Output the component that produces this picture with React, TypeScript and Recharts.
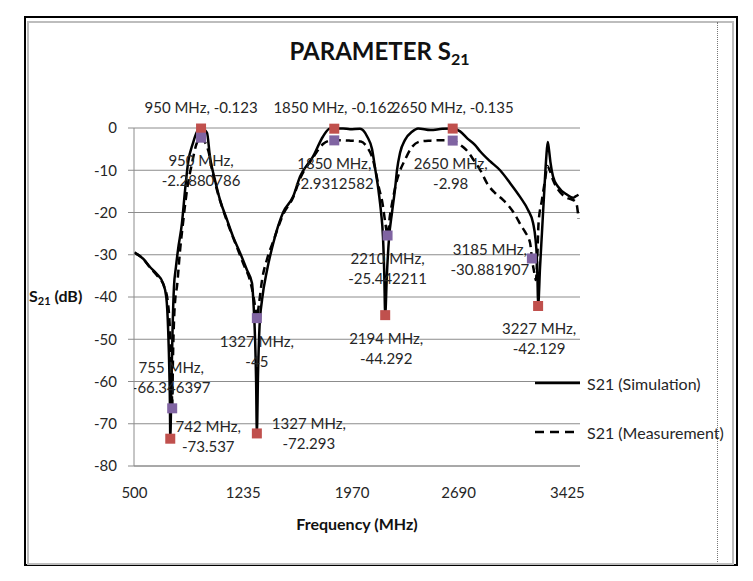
import { ComposedChart, Line, Scatter, XAxis, YAxis, CartesianGrid, Legend, Label } from "recharts";

const FONT = "Lato, 'Noto Sans', sans-serif";
const TEXT = "#262626";
const GRID = "#8c8c8c";
const SIM_COLOR = "#c0504d";
const MEAS_COLOR = "#8064a2";
const SIM_NAME = "S21 (Simulation)";
const MEAS_NAME = "S21 (Measurement)";

const X_TICKS = [500, 1235, 1970, 2690, 3425];
const Y_TICKS = [-80, -70, -60, -50, -40, -30, -20, -10, 0];

// simulated S21 sweep (MHz / dB)
const SIM_FREQ = [
  500, 560, 605, 650, 693, 715, 728, 736, 740, 742, 750, 758, 767, 780, 794, 821, 842, 862, 896, 929,
  950, 990, 1010, 1044, 1078, 1125, 1166, 1213, 1260, 1294, 1305, 1315, 1322, 1327, 1335, 1345, 1362,
  1396, 1436, 1504, 1571, 1619, 1706, 1774, 1821, 1850, 1909, 1956, 2024, 2072, 2105, 2127, 2148, 2166,
  2179, 2188, 2194, 2205, 2220, 2240, 2260, 2274, 2294, 2328, 2375, 2416, 2500, 2580, 2650, 2700, 2750,
  2800, 2835, 2900, 2970, 3037, 3105, 3159, 3193, 3210, 3218, 3223, 3227, 3240, 3253, 3270, 3282, 3292,
  3300, 3310, 3328, 3362, 3423, 3463, 3480, 3500,
];
const SIM_DB = [
  -29.5, -31, -32.9, -34.5, -36.7, -40, -48, -58, -66, -73.537, -60, -47, -37.6, -33, -28.9, -22.5, -14.7,
  -8.3, -3.5, -0.5, -0.123, -1.1, -6.8, -12.3, -17, -21.7, -25.7, -29.5, -33.6, -36.7, -42, -50, -60,
  -72.293, -58, -47, -40.7, -33.6, -27.5, -20, -16.3, -11.5, -6.8, -2, -0.1, -0.162, -0.1, -0.3, -0.2, -2,
  -5, -9.8, -14.6, -20, -25.7, -35, -44.292, -35, -26, -20, -14.6, -9.9, -5.9, -2.8, -0.9, -0.1, -0.5,
  -0.2, -0.135, -0.8, -2.5, -4, -5.5, -7.8, -10, -13, -16.3, -19.4, -22.5, -26.5, -30.4, -36, -42.129,
  -33, -24.8, -14, -7, -3.3, -5, -8, -11.5, -13.9, -15.8, -16.5, -16.2, -15.8,
];

// measured S21 sweep (MHz / dB)
const MEAS_FREQ = [
  500, 560, 605, 650, 700, 725, 740, 748, 753, 755, 760, 768, 777, 787, 808, 828, 855, 889, 922, 950,
  970, 1000, 1025, 1060, 1100, 1145, 1190, 1240, 1280, 1305, 1318, 1327, 1340, 1362, 1396, 1436, 1504,
  1571, 1619, 1706, 1774, 1821, 1850, 1900, 1960, 2030, 2075, 2105, 2128, 2150, 2175, 2195, 2210, 2225,
  2245, 2265, 2290, 2328, 2375, 2430, 2500, 2580, 2650, 2680, 2720, 2750, 2790, 2835, 2889, 2940, 2990,
  3030, 3071, 3110, 3139, 3173, 3185, 3200, 3212, 3222, 3230, 3253, 3274, 3290, 3305, 3330, 3360, 3420,
  3460, 3480, 3490, 3500,
];
const MEAS_DB = [
  -29.5, -31, -33, -34.8, -37.5, -41, -48, -56, -62, -66.346397, -55, -45, -40, -37.6, -29, -22.5, -14.7,
  -8.3, -3.5, -2.2880786, -3, -5.5, -10, -15, -19.5, -24, -28, -32.5, -36, -40, -43, -45, -42, -36, -31,
  -27, -20.5, -16.5, -12, -7, -3.8, -3, -2.9312582, -2.9, -3, -3.2, -4.7, -6.8, -9.9, -13.9, -17.7, -22.5,
  -25.442211, -21, -17, -13.5, -10.5, -7.5, -4.5, -3.2, -3, -2.9, -2.98, -3.5, -4.5, -5.5, -7.5, -9.9,
  -13.5, -15.5, -17, -18.5, -20.5, -23, -24.6, -27.2, -30.881907, -34, -36, -30, -22.5, -17, -12.3, -9,
  -10, -12.5, -14.5, -16.5, -17, -17.5, -18.5, -21.5,
];

// annotated points
const SIM_MARK_FREQ = [950, 1850, 2650, 742, 1327, 2194, 3227];
const SIM_MARK_DB = [-0.123, -0.162, -0.135, -73.537, -72.293, -44.292, -42.129];
const MEAS_MARK_FREQ = [950, 1850, 2650, 755, 1327, 2210, 3185];
const MEAS_MARK_DB = [-2.2880786, -2.9312582, -2.98, -66.346397, -45, -25.442211, -30.881907];

type Placement = { dx: number; dy: number; oneLine?: boolean };

// where each data label sits relative to its marker
const SIM_LABEL_AT: Placement[] = [
  { dx: 0, dy: -21, oneLine: true },
  { dx: 0, dy: -21, oneLine: true },
  { dx: 0, dy: -21, oneLine: true },
  { dx: 38, dy: -2 },
  { dx: 52, dy: 0 },
  { dx: 1, dy: 33 },
  { dx: 1, dy: 33 },
];
const MEAS_LABEL_AT: Placement[] = [
  { dx: 0, dy: 33 },
  { dx: 0, dy: 33 },
  { dx: -2, dy: 33 },
  { dx: -1, dy: -31 },
  { dx: 0, dy: 33 },
  { dx: 0, dy: 33 },
  { dx: -42, dy: 1 },
];

const toPoints = (fs: number[], ds: number[]) => fs.map((f, i) => ({ f, db: ds[i] }));

const simData = toPoints(SIM_FREQ, SIM_DB);
const measData = toPoints(MEAS_FREQ, MEAS_DB);
const simMarks = toPoints(SIM_MARK_FREQ, SIM_MARK_DB);
const measMarks = toPoints(MEAS_MARK_FREQ, MEAS_MARK_DB);

function markerShape(color: string, freqs: number[], places: Placement[]) {
  return (props: any) => {
    const { cx, cy, payload } = props;
    const p = places[freqs.indexOf(payload.f)] ?? { dx: 0, dy: 33 };
    const head = `${payload.f} MHz,`;
    const val = String(payload.db);
    const x = cx + p.dx;
    const textProps = { textAnchor: "middle" as const, fill: TEXT, fontSize: 15, fontFamily: FONT };
    return (
      <g>
        <rect x={cx - 5} y={cy - 5} width={10} height={10} fill={color} />
        {p.oneLine ? (
          <text x={x} y={cy + p.dy + 5.5} {...textProps}>{`${head} ${val}`}</text>
        ) : (
          <text {...textProps}>
            <tspan x={x} y={cy + p.dy - 4.5}>{head}</tspan>
            <tspan x={x} y={cy + p.dy + 15.5}>{val}</tspan>
          </text>
        )}
      </g>
    );
  };
}

const LEGEND_ORDER = [SIM_NAME, MEAS_NAME];

function LegendBox(props: any) {
  const items = (props.payload ?? [])
    .filter((e: any) => LEGEND_ORDER.includes(e.value))
    .sort((a: any, b: any) => LEGEND_ORDER.indexOf(a.value) - LEGEND_ORDER.indexOf(b.value));
  return (
    <div style={{ fontFamily: FONT, fontSize: 16, color: TEXT }}>
      {items.map((e: any, i: number) => (
        <div key={e.value} style={{ display: "flex", alignItems: "center", height: 20, marginTop: i ? 29 : 0 }}>
          <svg width={45} height={20}>
            <line x1={0} x2={45} y1={10} y2={10} stroke="#000" strokeWidth={2.5}
              strokeDasharray={e.value === MEAS_NAME ? "9 6" : undefined} />
          </svg>
          <span style={{ marginLeft: 7, whiteSpace: "nowrap" }}>{e.value}</span>
        </div>
      ))}
    </div>
  );
}

export default function App() {
  return (
    <div style={{ position: "absolute", left: 0, top: 0, width: 753, height: 581, background: "#fff", fontFamily: FONT }}>
      {/* frame */}
      <div style={{ position: "absolute", left: 24, top: 16, width: 710, height: 546, border: "2px solid #000" }} />
      <div style={{ position: "absolute", left: 27, top: 21, width: 703, height: 540, border: "2px solid #bdbdbd" }} />
      <div style={{ position: "absolute", left: 717, top: 22, width: 0, height: 540, borderLeft: "1px dotted #777" }} />

      <div style={{ position: "absolute", left: 27, width: 705, top: 37, textAlign: "center", fontWeight: 700, fontSize: 24, lineHeight: 1.2, color: "#111" }}>
        PARAMETER S<span style={{ fontSize: 16, position: "relative", top: 5 }}>21</span>
      </div>
      <div style={{ position: "absolute", left: 29, top: 286, fontWeight: 700, fontSize: 16, lineHeight: 1.2, color: "#111" }}>
        S<span style={{ fontSize: 11, position: "relative", top: 3 }}>21</span> (dB)
      </div>

      <div style={{ position: "absolute", left: 0, top: 0 }}>
        <ComposedChart width={753} height={581} margin={{ top: 128, right: 173, bottom: 85, left: 0 }}>
          <CartesianGrid horizontal vertical={false} stroke={GRID} />
          <XAxis dataKey="f" type="number" domain={[497, 3510]} ticks={X_TICKS} allowDataOverflow
            height={30} tickLine={false} tickSize={0} tickMargin={21} axisLine={{ stroke: GRID }}
            tick={{ fill: TEXT, fontSize: 15, fontFamily: FONT }}>
            <Label value="Frequency (MHz)" position="bottom" offset={23}
              style={{ fontWeight: 700, fontSize: 16, fill: "#111", fontFamily: FONT }} />
          </XAxis>
          <YAxis dataKey="db" type="number" domain={[-80, 0]} ticks={Y_TICKS} width={134}
            tickSize={6} tickMargin={11} axisLine={{ stroke: GRID }} tickLine={{ stroke: GRID }}
            tick={{ fill: TEXT, fontSize: 15, fontFamily: FONT }} />
          <Line data={simData} dataKey="db" name={SIM_NAME} type="monotone" stroke="#000" strokeWidth={2.5}
            dot={false} isAnimationActive={false} />
          <Line data={measData} dataKey="db" name={MEAS_NAME} type="monotone" stroke="#000" strokeWidth={2.5}
            strokeDasharray="8 5" dot={false} isAnimationActive={false} />
          <Scatter data={simMarks} dataKey="db" legendType="none" isAnimationActive={false}
            shape={markerShape(SIM_COLOR, SIM_MARK_FREQ, SIM_LABEL_AT)} />
          <Scatter data={measMarks} dataKey="db" legendType="none" isAnimationActive={false}
            shape={markerShape(MEAS_COLOR, MEAS_MARK_FREQ, MEAS_LABEL_AT)} />
          <Legend layout="vertical" align="center" verticalAlign="middle" content={LegendBox}
            wrapperStyle={{ left: 535, top: 373, width: 210, height: 80 }} />
        </ComposedChart>
      </div>
    </div>
  );
}
